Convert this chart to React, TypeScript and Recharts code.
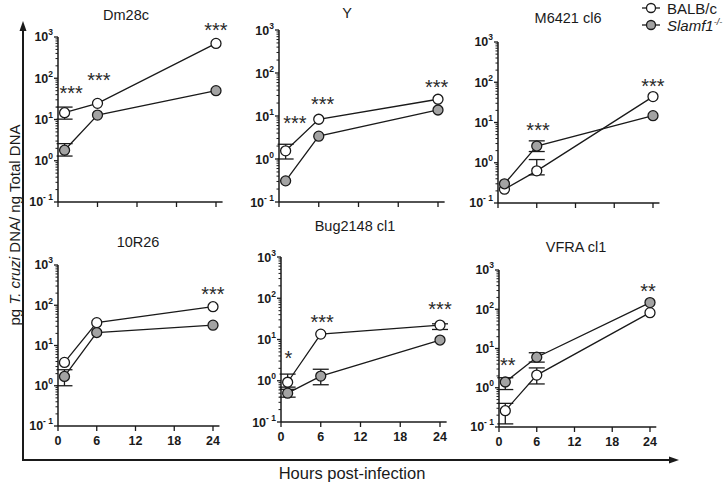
import React from "react";
import {
  ComposedChart,
  ErrorBar,
  Line,
  ReferenceDot,
  XAxis,
  YAxis,
} from "recharts";

// shared axes
const hours = [1, 6, 24];
const xTicks = [0, 6, 12, 18, 24];
const decades = [0.1, 1, 10, 100, 1000];
const minorSteps = [2, 3, 4, 5, 6, 7, 8, 9];

// Dm28c
const dm28cBalb = [14.6, 24.6, 700];
const dm28cBalbBar = [[10.2, 20], null, null];
const dm28cSlam = [1.8, 12.8, 50];
const dm28cSlamBar = [[1.3, 2.6], null, null];
const dm28cStars = [
  { hour: 2, value: 55, text: "***" },
  { hour: 6.2, value: 113, text: "***" },
  { hour: 24, value: 1850, text: "***" },
];

// Y
const yBalb = [1.55, 8.4, 24.5];
const yBalbBar = [[1.0, 2.2], null, null];
const ySlam = [0.31, 3.4, 13.8];
const ySlamBar = [null, null, null];
const yStars = [
  { hour: 2.4, value: 8.5, text: "***" },
  { hour: 6.6, value: 23, text: "***" },
  { hour: 23.8, value: 59, text: "***" },
];

// M6421 cl6
const m6421Balb = [0.22, 0.63, 44];
const m6421BalbBar = [null, [0.5, 1.2], null];
const m6421Slam = [0.3, 2.6, 14.8];
const m6421SlamBar = [null, [1.9, 3.5], null];
const m6421Stars = [
  { hour: 6.2, value: 8.2, text: "***" },
  { hour: 24, value: 100, text: "***" },
];

// 10R26
const r26Balb = [3.8, 37, 92];
const r26BalbBar = [null, null, null];
const r26Slam = [1.7, 21, 32];
const r26SlamBar = [[1.0, 2.5], null, null];
const r26Stars = [{ hour: 24, value: 240, text: "***" }];

// Bug2148 cl1
const bugBalb = [0.92, 13.5, 22.4];
const bugBalbBar = [[0.7, 1.45], null, [17.5, 24]];
const bugSlam = [0.5, 1.3, 9.7];
const bugSlamBar = [[0.4, 0.62], [0.8, 1.9], null];
const bugStars = [
  { hour: 1.1, value: 4.5, text: "*" },
  { hour: 6.2, value: 33, text: "***" },
  { hour: 24, value: 69, text: "***" },
];

// VFRA cl1
const vfraBalb = [0.26, 2.1, 82];
const vfraBalbBar = [[0.12, 0.4], [1.25, 3.2], null];
const vfraSlam = [1.4, 6, 148];
const vfraSlamBar = [[0.9, 1.8], [4.5, 7.8], null];
const vfraStars = [
  { hour: 1.4, value: 4.8, text: "**" },
  { hour: 23.7, value: 370, text: "**" },
];

const yTicks = decades.flatMap((d) =>
  d < 1000 ? [d, ...minorSteps.map((m) => d * m)] : [d]
);

const FONT = "'Liberation Sans', Arial, sans-serif";
const INK = "#1a1a1a";
const GREY = "#a3a3a3";

type Bar = number[] | null;

const buildRows = (balb: number[], balbBar: Bar[], slam: number[], slamBar: Bar[]) =>
  hours.map((hour, i) => ({
    hour,
    balb: balb[i],
    balbErr: balbBar[i] ? [balb[i] - balbBar[i]![0], balbBar[i]![1] - balb[i]] : null,
    slam: slam[i],
    slamErr: slamBar[i] ? [slam[i] - slamBar[i]![0], slamBar[i]![1] - slam[i]] : null,
  }));

const panels = [
  { title: "Dm28c", rows: buildRows(dm28cBalb, dm28cBalbBar, dm28cSlam, dm28cSlamBar), stars: dm28cStars,
    left: 58, x24: 216, top: 37, bottom: 202, tx: 126, ty: 15, labels: false },
  { title: "Y", rows: buildRows(yBalb, yBalbBar, ySlam, ySlamBar), stars: yStars,
    left: 279, x24: 438, top: 30, bottom: 202, tx: 347, ty: 13, labels: false },
  { title: "M6421 cl6", rows: buildRows(m6421Balb, m6421BalbBar, m6421Slam, m6421SlamBar), stars: m6421Stars,
    left: 498, x24: 653, top: 42, bottom: 203, tx: 568, ty: 18, labels: false },
  { title: "10R26", rows: buildRows(r26Balb, r26BalbBar, r26Slam, r26SlamBar), stars: r26Stars,
    left: 58, x24: 213, top: 265, bottom: 426, tx: 138, ty: 242, labels: true },
  { title: "Bug2148 cl1", rows: buildRows(bugBalb, bugBalbBar, bugSlam, bugSlamBar), stars: bugStars,
    left: 281, x24: 440, top: 257, bottom: 422, tx: 355, ty: 226, labels: true },
  { title: "VFRA cl1", rows: buildRows(vfraBalb, vfraBalbBar, vfraSlam, vfraSlamBar), stars: vfraStars,
    left: 499, x24: 650, top: 270, bottom: 427, tx: 576, ty: 247, labels: true },
];

const YTick = ({ x, y, payload }: any) => {
  if (typeof x !== "number" || typeof y !== "number") return null;
  const v = payload?.value as number;
  const exp = Math.log10(v);
  const major = Math.abs(exp - Math.round(exp)) < 1e-6;
  if (!major) {
    return <line x1={x - 2.5} x2={x} y1={y} y2={y} stroke={INK} strokeWidth={1} />;
  }
  return (
    <g>
      <line x1={x - 4} x2={x} y1={y} y2={y} stroke={INK} strokeWidth={1.3} />
      <text x={x - 5} y={y + 4.5} textAnchor="end" fontFamily={FONT} fontSize={12.5} fontWeight="bold" fill={INK}>
        10
        <tspan dy={-6} fontSize={8.5}>
          {Math.round(exp) < 0 ? "- 1" : Math.round(exp)}
        </tspan>
      </text>
    </g>
  );
};

const XTick = ({ x, y, payload, show }: any) => {
  if (!show || typeof x !== "number") return <g />;
  return (
    <text x={x} y={y + 14} textAnchor="middle" fontFamily={FONT} fontSize={12.5} fontWeight="bold" fill={INK}>
      {payload.value}
    </text>
  );
};

const Panel = ({ p }: { p: (typeof panels)[number] }) => {
  const yAxisW = 45;
  const mTop = 22;
  const xAxisH = 24;
  const mRight = 10;
  const plotW = ((p.x24 - p.left) * 25) / 24;
  const plotH = p.bottom - p.top;
  return (
    <>
      <div
        style={{
          position: "absolute",
          left: p.tx,
          top: p.ty,
          transform: "translate(-50%, -50%)",
          whiteSpace: "nowrap",
          fontSize: 14.5,
          color: INK,
        }}
      >
        {p.title}
      </div>
      <div style={{ position: "absolute", left: p.left - yAxisW, top: p.top - mTop }}>
        <ComposedChart
          width={yAxisW + plotW + mRight}
          height={mTop + plotH + xAxisH}
          data={p.rows}
          margin={{ top: mTop, right: mRight, bottom: 0, left: 0 }}
        >
          <XAxis
            type="number"
            dataKey="hour"
            domain={[0, 25]}
            allowDataOverflow
            ticks={xTicks}
            interval={0}
            height={xAxisH}
            tickSize={5}
            tickMargin={0}
            axisLine={{ stroke: INK, strokeWidth: 1.5 }}
            tickLine={{ stroke: INK, strokeWidth: 1.3 }}
            tick={<XTick show={p.labels} />}
          />
          <YAxis
            scale="log"
            domain={[0.1, 1000]}
            allowDataOverflow
            ticks={yTicks}
            interval={0}
            width={yAxisW}
            tickSize={0}
            tickMargin={0}
            tickLine={false}
            axisLine={{ stroke: INK, strokeWidth: 1.5 }}
            tick={<YTick />}
          />
          <Line
            dataKey="balb"
            stroke={INK}
            strokeWidth={1.3}
            dot={{ r: 5, fill: "#fff", stroke: INK, strokeWidth: 1.3 }}
            activeDot={false}
            isAnimationActive={false}
          >
            <ErrorBar dataKey="balbErr" width={8} stroke={INK} strokeWidth={1.3} />
          </Line>
          <Line
            dataKey="slam"
            stroke={INK}
            strokeWidth={1.3}
            dot={{ r: 5, fill: GREY, stroke: INK, strokeWidth: 1.3 }}
            activeDot={false}
            isAnimationActive={false}
          >
            <ErrorBar dataKey="slamErr" width={8} stroke={INK} strokeWidth={1.3} />
          </Line>
          {p.stars.map((s) => (
            <ReferenceDot
              key={`${s.hour}-${s.value}`}
              x={s.hour}
              y={s.value}
              r={0}
              ifOverflow="visible"
              shape={(props: any) => (
                <text
                  x={props.cx}
                  y={props.cy + 11}
                  textAnchor="middle"
                  fontFamily={FONT}
                  fontSize={20}
                  fill="#2a2a2a"
                >
                  {s.text}
                </text>
              )}
            />
          ))}
        </ComposedChart>
      </div>
    </>
  );
};

export default function App() {
  return (
    <div
      style={{
        position: "absolute",
        left: 0,
        top: 0,
        width: 728,
        height: 483,
        background: "#fff",
        fontFamily: FONT,
        overflow: "hidden",
      }}
    >
      <svg width={728} height={483} style={{ position: "absolute", left: 0, top: 0 }}>
        <line x1={23} x2={23} y1={30} y2={461} stroke={INK} strokeWidth={2} />
        <polygon points="23,21 19.5,31 26.5,31" fill={INK} />
        <line x1={22} x2={670} y1={460} y2={460} stroke={INK} strokeWidth={2} />
        <polygon points="679,460 669,456.5 669,463.5" fill={INK} />
        <text
          transform="translate(14, 225) rotate(-90)"
          textAnchor="middle"
          dominantBaseline="central"
          fontFamily={FONT}
          fontSize={15}
          fill={INK}
        >
          pg <tspan fontStyle="italic">T. cruzi</tspan> DNA/ ng Total DNA
        </text>
        <text x={352} y={479} textAnchor="middle" fontFamily={FONT} fontSize={16.5} fill={INK}>
          Hours post-infection
        </text>
        {/* legend */}
        <line x1={642} x2={660} y1={8} y2={8} stroke={INK} strokeWidth={1.3} />
        <circle cx={651} cy={8} r={4.5} fill="#fff" stroke={INK} strokeWidth={1.3} />
        <text x={667} y={13.5} fontFamily={FONT} fontSize={15} fill={INK}>
          BALB/c
        </text>
        <line x1={642} x2={660} y1={25} y2={25} stroke={INK} strokeWidth={1.3} />
        <circle cx={651} cy={25} r={4.5} fill={GREY} stroke={INK} strokeWidth={1.3} />
        <text x={667} y={30.5} fontFamily={FONT} fontSize={15} fontStyle="italic" fill={INK}>
          Slamf1
          <tspan dy={-6} fontSize={9}>
            -/-
          </tspan>
        </text>
      </svg>
      {panels.map((p) => (
        <Panel key={p.title} p={p} />
      ))}
    </div>
  );
}
